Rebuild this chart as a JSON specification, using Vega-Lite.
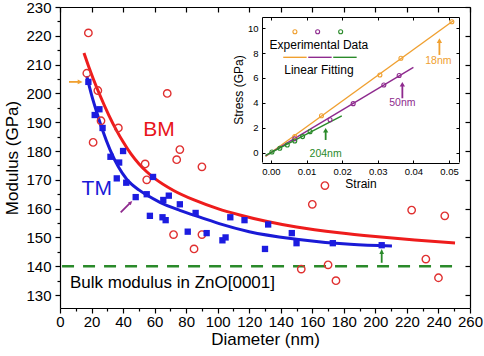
{
  "$schema": "https://vega.github.io/schema/vega-lite/v6.json",
  "width": 410,
  "height": 301,
  "autosize": "none",
  "padding": {"left": 60, "top": 7, "right": 14, "bottom": 48},
  "background": "white",
  "config": {
    "view": {"stroke": null},
    "font": "Liberation Sans",
    "axis": {"domainColor": "black", "tickColor": "black", "labelColor": "black", "titleColor": "black", "grid": false, "labelFont": "Liberation Sans", "titleFont": "Liberation Sans", "titleFontWeight": "normal", "labelFlush": false, "labelOverlap": false}
  },
  "datasets": {
    "bulk": [{"d": 1.3, "v": 140}, {"d": 251.5, "v": 140}],
    "bm_fit": [{"d":15.2,"v":214},{"d":18,"v":209.6},{"d":21,"v":205.2},{"d":25,"v":199.8},{"d":31,"v":192.4},{"d":36,"v":187},{"d":40,"v":183.2},{"d":45,"v":179},{"d":50,"v":175.6},{"d":55,"v":172.8},{"d":60,"v":170.5},{"d":72,"v":166.3},{"d":85,"v":163},{"d":100,"v":160},{"d":114,"v":157.8},{"d":130,"v":155.7},{"d":150,"v":153.6},{"d":177,"v":151.6},{"d":200,"v":150.3},{"d":225,"v":149.1},{"d":250.5,"v":148.1}],
    "tm_fit": [{"d":17,"v":206},{"d":20,"v":199.5},{"d":23,"v":194},{"d":27,"v":187.2},{"d":31.7,"v":180.5},{"d":37,"v":174.5},{"d":42.3,"v":170.2},{"d":50,"v":166.5},{"d":55,"v":164.7},{"d":63.4,"v":162.2},{"d":76,"v":159.4},{"d":90,"v":156.8},{"d":101.5,"v":154.7},{"d":120,"v":152},{"d":150,"v":149.4},{"d":184,"v":147.6},{"d":210.5,"v":147}],
    "bm": [{"d":18,"v":221},{"d":17,"v":207},{"d":24,"v":201},{"d":26,"v":190.5},{"d":37,"v":188},{"d":21,"v":183},{"d":68,"v":200},{"d":76,"v":180.5},{"d":74,"v":177},{"d":90,"v":174.5},{"d":54,"v":175.5},{"d":55,"v":170},{"d":72,"v":151},{"d":90,"v":151},{"d":85,"v":146},{"d":168,"v":168},{"d":160,"v":161.5},{"d":153,"v":139},{"d":170,"v":140.5},{"d":175,"v":135},{"d":223,"v":159.5},{"d":244,"v":157.5},{"d":232,"v":142.5},{"d":240,"v":136}],
    "tm": [{"d":18,"v":204},{"d":22,"v":192.5},{"d":25,"v":194.5},{"d":27,"v":188},{"d":32,"v":178},{"d":36,"v":170.5},{"d":37.5,"v":176},{"d":40,"v":180},{"d":42,"v":169},{"d":48,"v":164},{"d":55,"v":165},{"d":57,"v":157.5},{"d":59,"v":171},{"d":65,"v":157},{"d":65.5,"v":163},{"d":67,"v":156},{"d":69,"v":164.5},{"d":76,"v":161.5},{"d":81,"v":152},{"d":86,"v":158.5},{"d":93,"v":151.5},{"d":103,"v":149},{"d":105,"v":150},{"d":108,"v":157},{"d":117,"v":156},{"d":130,"v":146},{"d":132,"v":154.5},{"d":147,"v":151.5},{"d":150,"v":148},{"d":173,"v":148},{"d":204,"v":147.3}],
    "curve_labels": [{"d":62.8,"v":187.4,"label":"BM"},{"d":23.3,"v":166.7,"label":"TM"}],
    "bulk_label": [{"d":6.3,"v":132.3,"label":"Bulk modulus in ZnO[0001]"}],
    "main_arrows": [{"series":"18nm","d":5.7,"v":204,"d2":12,"v2":204},{"series":"50nm","d":38.5,"v":158.7,"d2":44.2,"v2":161.8},{"series":"204nm","d":204,"v":141.2,"d2":204,"v2":144.6}],
    "main_heads": [{"series":"18nm","d":12.6,"v":204},{"series":"50nm","d":44.6,"v":162},{"series":"204nm","d":204,"v":145}],
    "inset_fit": [{"series":"18nm","s":-0.0015,"p":-0.31},{"series":"18nm","s":0.0512,"p":10.6},{"series":"50nm","s":-0.0015,"p":-0.26},{"series":"50nm","s":0.04,"p":6.85},{"series":"204nm","s":-0.0015,"p":-0.22},{"series":"204nm","s":0.0199,"p":2.95}],
    "inset_exp": [{"series":"18nm","s":0.0508,"p":10.52},{"series":"18nm","s":0.0365,"p":7.58},{"series":"18nm","s":0.0306,"p":6.24},{"series":"18nm","s":0.0142,"p":2.97},{"series":"18nm","s":0.0067,"p":1.3},{"series":"50nm","s":0.036,"p":6.2},{"series":"50nm","s":0.0317,"p":5.44},{"series":"50nm","s":0.0231,"p":3.94},{"series":"50nm","s":0.0166,"p":2.65},{"series":"50nm","s":0.0067,"p":1.12},{"series":"204nm","s":0.0003,"p":0.05},{"series":"204nm","s":0.0025,"p":0.35},{"series":"204nm","s":0.0046,"p":0.62},{"series":"204nm","s":0.0067,"p":0.94},{"series":"204nm","s":0.0089,"p":1.29},{"series":"204nm","s":0.011,"p":1.69}],
    "legend_points": [{"series":"18nm","s":0.00674,"p":9.72},{"series":"50nm","s":0.01312,"p":9.72},{"series":"204nm","s":0.01958,"p":9.72}],
    "legend_lines": [{"series":"18nm","s":0.00346,"s2":0.01003,"p":7.66},{"series":"50nm","s":0.01048,"s2":0.01705,"p":7.66},{"series":"204nm","s":0.0175,"s2":0.02407,"p":7.66}],
    "legend_text": [{"s":0.01348,"p":8.65,"label":"Experimental Data"},{"s":0.01348,"p":6.64,"label":"Linear Fitting"}],
    "inset_labels": [{"series":"18nm","s":0.047,"p":7.37,"label":"18nm"},{"series":"50nm","s":0.0369,"p":3.97,"label":"50nm"},{"series":"204nm","s":0.01536,"p":-0.1,"label":"204nm"}],
    "inset_arrows": [{"series":"18nm","s":0.0473,"p":7.85,"p2":9.0},{"series":"50nm","s":0.0369,"p":4.37,"p2":5.5},{"series":"204nm","s":0.01537,"p":1.02,"p2":1.8}]
  },
  "resolve": {"scale": {"x": "independent", "y": "independent"}, "axis": {"x": "independent", "y": "independent"}},
  "layer": [
    {
      "data": {"name": "bulk"},
      "mark": {"type": "line", "color": "#2a8a2a", "strokeWidth": 2.5, "strokeDash": [12, 9]},
      "encoding": {
        "x": {"field": "d", "type": "quantitative", "scale": {"domain": [0, 260], "nice": false, "zero": false},
              "axis": {"orient": "bottom", "values": [0,20,40,60,80,100,120,140,160,180,200,220,240,260], "format": "d", "tickSize": 5, "labelPadding": 1, "labelFontSize": 15, "title": "Diameter (nm)", "titleFontSize": 17, "titlePadding": 2, "domainWidth": 1.2, "tickWidth": 1.2}},
        "y": {"field": "v", "type": "quantitative", "scale": {"domain": [125.5, 230], "nice": false, "zero": false},
              "axis": {"orient": "left", "values": [130,140,150,160,170,180,190,200,210,220,230], "tickSize": 5, "labelPadding": 4, "labelFontSize": 15, "title": "Modulus (GPa)", "titleFontSize": 17, "titlePadding": 4, "domainWidth": 1.2, "tickWidth": 1.2}}
      }
    },
    {
      "data": {"name": "bm_fit"},
      "mark": {"type": "line", "color": "#ee1c1c", "strokeWidth": 3, "interpolate": "monotone"},
      "encoding": {
        "x": {"field": "d", "type": "quantitative", "scale": {"domain": [0, 260], "nice": false, "zero": false},
              "axis": {"orient": "top", "values": [0,20,40,60,80,100,120,140,160,180,200,220,240,260], "tickSize": -5, "labels": false, "title": null, "domainWidth": 1.2, "tickWidth": 1.2}},
        "y": {"field": "v", "type": "quantitative", "scale": {"domain": [125.5, 230], "nice": false, "zero": false},
              "axis": {"orient": "right", "values": [130,140,150,160,170,180,190,200,210,220,230], "tickSize": -5, "labels": false, "title": null, "domainWidth": 1.2, "tickWidth": 1.2}}
      }
    },
    {
      "data": {"name": "tm_fit"},
      "mark": {"type": "line", "color": "#1a1ad6", "strokeWidth": 3, "interpolate": "monotone"},
      "encoding": {
        "x": {"field": "d", "type": "quantitative", "scale": {"domain": [0, 260], "nice": false, "zero": false},
              "axis": {"orient": "bottom", "values": [10,30,50,70,90,110,130,150,170,190,210,230,250], "tickSize": 3, "labels": false, "domain": false, "title": null, "tickWidth": 1.2}},
        "y": {"field": "v", "type": "quantitative", "scale": {"domain": [125.5, 230], "nice": false, "zero": false},
              "axis": {"orient": "left", "values": [135,145,155,165,175,185,195,205,215,225], "tickSize": 3, "labels": false, "domain": false, "title": null, "tickWidth": 1.2}}
      }
    },
    {
      "data": {"name": "bm"},
      "mark": {"type": "point", "filled": false, "color": "#e03030", "size": 55, "strokeWidth": 1.4, "opacity": 1},
      "encoding": {
        "x": {"field": "d", "type": "quantitative", "scale": {"domain": [0, 260], "nice": false, "zero": false}, "axis": null},
        "y": {"field": "v", "type": "quantitative", "scale": {"domain": [125.5, 230], "nice": false, "zero": false}, "axis": null}
      }
    },
    {
      "data": {"name": "tm"},
      "mark": {"type": "point", "filled": true, "shape": "square", "color": "#1c1ce0", "size": 40, "opacity": 1},
      "encoding": {
        "x": {"field": "d", "type": "quantitative", "scale": {"domain": [0, 260], "nice": false, "zero": false}, "axis": null},
        "y": {"field": "v", "type": "quantitative", "scale": {"domain": [125.5, 230], "nice": false, "zero": false}, "axis": null}
      }
    },
    {
      "data": {"name": "curve_labels"},
      "mark": {"type": "text", "fontSize": 21, "font": "Liberation Sans", "align": "center", "baseline": "middle"},
      "encoding": {
        "x": {"field": "d", "type": "quantitative", "scale": {"domain": [0, 260], "nice": false, "zero": false}, "axis": null},
        "y": {"field": "v", "type": "quantitative", "scale": {"domain": [125.5, 230], "nice": false, "zero": false}, "axis": null},
        "text": {"field": "label"},
        "color": {"field": "label", "type": "nominal", "legend": null, "scale": {"domain": ["18nm","50nm","204nm","BM","TM"], "range": ["#f0a030","#8e2a8e","#2a8a2a","#e8141b","#1a1ad8"]}}
      }
    },
    {
      "data": {"name": "bulk_label"},
      "mark": {"type": "text", "fontSize": 17, "font": "Liberation Sans", "align": "left", "baseline": "alphabetic", "color": "black"},
      "encoding": {
        "x": {"field": "d", "type": "quantitative", "scale": {"domain": [0, 260], "nice": false, "zero": false}, "axis": null},
        "y": {"field": "v", "type": "quantitative", "scale": {"domain": [125.5, 230], "nice": false, "zero": false}, "axis": null},
        "text": {"field": "label"}
      }
    },
    {
      "data": {"name": "main_arrows"},
      "mark": {"type": "rule", "strokeWidth": 1.8},
      "encoding": {
        "x": {"field": "d", "type": "quantitative", "scale": {"domain": [0, 260], "nice": false, "zero": false}, "axis": null},
        "y": {"field": "v", "type": "quantitative", "scale": {"domain": [125.5, 230], "nice": false, "zero": false}, "axis": null},
        "x2": {"field": "d2"},
        "y2": {"field": "v2"},
        "color": {"field": "series", "type": "nominal", "legend": null, "scale": {"domain": ["18nm","50nm","204nm","BM","TM"], "range": ["#f0a030","#8e2a8e","#2a8a2a","#e8141b","#1a1ad8"]}}
      }
    },
    {
      "data": {"name": "main_heads"},
      "mark": {"type": "point", "filled": true, "size": 30, "opacity": 1},
      "encoding": {
        "x": {"field": "d", "type": "quantitative", "scale": {"domain": [0, 260], "nice": false, "zero": false}, "axis": null},
        "y": {"field": "v", "type": "quantitative", "scale": {"domain": [125.5, 230], "nice": false, "zero": false}, "axis": null},
        "shape": {"field": "series", "type": "nominal", "legend": null, "scale": {"domain": ["18nm","50nm","204nm"], "range": ["M1,0L-0.8,0.85L-0.8,-0.85Z", "M0.7,-0.7L0.15,0.85L-0.85,-0.15Z", "M0,-1L0.85,0.8L-0.85,0.8Z"]}},
        "color": {"field": "series", "type": "nominal", "legend": null, "scale": {"domain": ["18nm","50nm","204nm","BM","TM"], "range": ["#f0a030","#8e2a8e","#2a8a2a","#e8141b","#1a1ad8"]}}
      }
    },
    {
      "data": {"name": "inset_fit"},
      "mark": {"type": "line", "strokeWidth": 1.4},
      "encoding": {
        "x": {"field": "s", "type": "quantitative", "scale": {"domain": [-0.0025, 0.0528], "range": [202, 399], "nice": false, "zero": false},
              "axis": {"orient": "bottom", "offset": -145, "values": [0, 0.01, 0.02, 0.03, 0.04, 0.05], "format": ".2f", "tickSize": -3, "labelPadding": 6, "labelFontSize": 9.5, "title": "Strain", "titleFontSize": 12, "titlePadding": 3, "domainWidth": 1}},
        "y": {"field": "p", "type": "quantitative", "scale": {"domain": [-0.75, 10.9], "range": [155, 10], "nice": false, "zero": false},
              "axis": {"orient": "left", "offset": -202, "values": [0, 2, 4, 6, 8, 10], "tickSize": -3, "labelPadding": 7, "labelFontSize": 9.5, "title": "Stress (GPa)", "titleFontSize": 12, "titlePadding": 2, "domainWidth": 1}},
        "color": {"field": "series", "type": "nominal", "legend": null, "scale": {"domain": ["18nm","50nm","204nm","BM","TM"], "range": ["#f0a030","#8e2a8e","#2a8a2a","#e8141b","#1a1ad8"]}}
      }
    },
    {
      "data": {"name": "inset_exp"},
      "mark": {"type": "point", "filled": false, "size": 16, "strokeWidth": 1.1, "opacity": 1},
      "encoding": {
        "x": {"field": "s", "type": "quantitative", "scale": {"domain": [-0.0025, 0.0528], "range": [202, 399], "nice": false, "zero": false},
              "axis": {"orient": "top", "offset": -10, "values": [0, 0.01, 0.02, 0.03, 0.04, 0.05], "tickSize": -3, "labels": false, "title": null, "domainWidth": 1}},
        "y": {"field": "p", "type": "quantitative", "scale": {"domain": [-0.75, 10.9], "range": [155, 10], "nice": false, "zero": false},
              "axis": {"orient": "right", "offset": -11, "values": [0, 2, 4, 6, 8, 10], "tickSize": -3, "labels": false, "title": null, "domainWidth": 1}},
        "color": {"field": "series", "type": "nominal", "legend": null, "scale": {"domain": ["18nm","50nm","204nm","BM","TM"], "range": ["#f0a030","#8e2a8e","#2a8a2a","#e8141b","#1a1ad8"]}}
      }
    },
    {
      "data": {"name": "legend_points"},
      "mark": {"type": "point", "filled": false, "size": 16, "strokeWidth": 1.1, "opacity": 1},
      "encoding": {
        "x": {"field": "s", "type": "quantitative", "scale": {"domain": [-0.0025, 0.0528], "range": [202, 399], "nice": false, "zero": false}, "axis": null},
        "y": {"field": "p", "type": "quantitative", "scale": {"domain": [-0.75, 10.9], "range": [155, 10], "nice": false, "zero": false}, "axis": null},
        "color": {"field": "series", "type": "nominal", "legend": null, "scale": {"domain": ["18nm","50nm","204nm","BM","TM"], "range": ["#f0a030","#8e2a8e","#2a8a2a","#e8141b","#1a1ad8"]}}
      }
    },
    {
      "data": {"name": "legend_lines"},
      "mark": {"type": "rule", "strokeWidth": 1.4},
      "encoding": {
        "x": {"field": "s", "type": "quantitative", "scale": {"domain": [-0.0025, 0.0528], "range": [202, 399], "nice": false, "zero": false}, "axis": null},
        "x2": {"field": "s2"},
        "y": {"field": "p", "type": "quantitative", "scale": {"domain": [-0.75, 10.9], "range": [155, 10], "nice": false, "zero": false}, "axis": null},
        "color": {"field": "series", "type": "nominal", "legend": null, "scale": {"domain": ["18nm","50nm","204nm","BM","TM"], "range": ["#f0a030","#8e2a8e","#2a8a2a","#e8141b","#1a1ad8"]}}
      }
    },
    {
      "data": {"name": "legend_text"},
      "mark": {"type": "text", "fontSize": 12, "font": "Liberation Sans", "align": "center", "baseline": "middle", "color": "black"},
      "encoding": {
        "x": {"field": "s", "type": "quantitative", "scale": {"domain": [-0.0025, 0.0528], "range": [202, 399], "nice": false, "zero": false}, "axis": null},
        "y": {"field": "p", "type": "quantitative", "scale": {"domain": [-0.75, 10.9], "range": [155, 10], "nice": false, "zero": false}, "axis": null},
        "text": {"field": "label"}
      }
    },
    {
      "data": {"name": "inset_labels"},
      "mark": {"type": "text", "fontSize": 10.5, "font": "Liberation Sans", "align": "center", "baseline": "middle"},
      "encoding": {
        "x": {"field": "s", "type": "quantitative", "scale": {"domain": [-0.0025, 0.0528], "range": [202, 399], "nice": false, "zero": false}, "axis": null},
        "y": {"field": "p", "type": "quantitative", "scale": {"domain": [-0.75, 10.9], "range": [155, 10], "nice": false, "zero": false}, "axis": null},
        "text": {"field": "label"},
        "color": {"field": "series", "type": "nominal", "legend": null, "scale": {"domain": ["18nm","50nm","204nm","BM","TM"], "range": ["#f0a030","#8e2a8e","#2a8a2a","#e8141b","#1a1ad8"]}}
      }
    },
    {
      "data": {"name": "inset_arrows"},
      "mark": {"type": "rule", "strokeWidth": 1.8},
      "encoding": {
        "x": {"field": "s", "type": "quantitative", "scale": {"domain": [-0.0025, 0.0528], "range": [202, 399], "nice": false, "zero": false}, "axis": null},
        "y": {"field": "p", "type": "quantitative", "scale": {"domain": [-0.75, 10.9], "range": [155, 10], "nice": false, "zero": false}, "axis": null},
        "y2": {"field": "p2"},
        "color": {"field": "series", "type": "nominal", "legend": null, "scale": {"domain": ["18nm","50nm","204nm","BM","TM"], "range": ["#f0a030","#8e2a8e","#2a8a2a","#e8141b","#1a1ad8"]}}
      }
    },
    {
      "data": {"name": "inset_arrows"},
      "mark": {"type": "point", "filled": true, "shape": "triangle-up", "size": 28, "opacity": 1},
      "encoding": {
        "x": {"field": "s", "type": "quantitative", "scale": {"domain": [-0.0025, 0.0528], "range": [202, 399], "nice": false, "zero": false}, "axis": null},
        "y": {"field": "p2", "type": "quantitative", "scale": {"domain": [-0.75, 10.9], "range": [155, 10], "nice": false, "zero": false}, "axis": null},
        "color": {"field": "series", "type": "nominal", "legend": null, "scale": {"domain": ["18nm","50nm","204nm","BM","TM"], "range": ["#f0a030","#8e2a8e","#2a8a2a","#e8141b","#1a1ad8"]}}
      }
    }
  ]
}
